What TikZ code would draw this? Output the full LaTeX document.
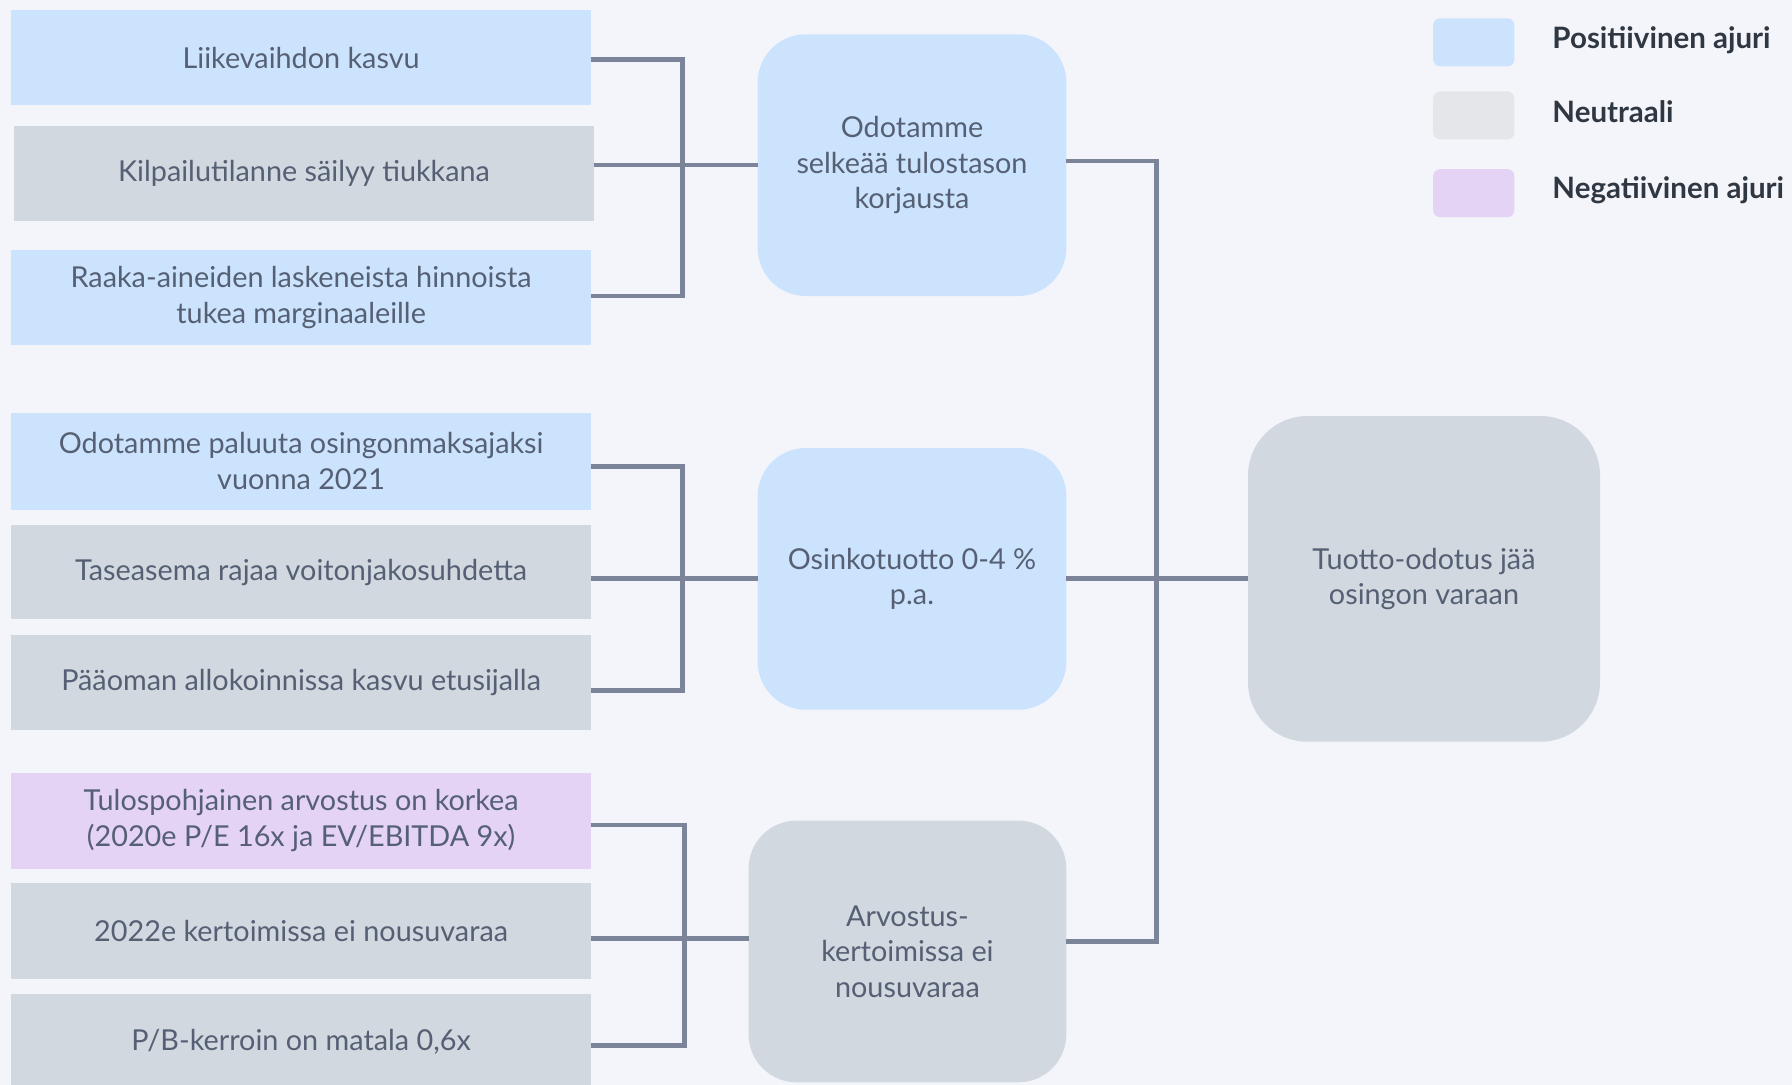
\documentclass[tikz,border=0pt]{standalone}
\usepackage{fontspec}
\setmainfont{Lato}
\definecolor{bg}{HTML}{F4F5FA}
\definecolor{posc}{HTML}{CCE3FD}
\definecolor{neuc}{HTML}{D1D8E0}
\definecolor{negc}{HTML}{E4D3F5}
\definecolor{legneu}{HTML}{E4E6EA}
\definecolor{txt}{HTML}{566074}
\definecolor{legtxt}{HTML}{2F3742}
\definecolor{linec}{HTML}{7B8499}
\begin{document}
\begin{tikzpicture}[x=0.5pt,y=-0.5pt,
  base/.style={inner sep=0pt,outer sep=0pt,align=center,text=txt,
    font=\fontsize{12.6}{15.5}\selectfont},
  leftbox/.style={base,rectangle,minimum width=253.5pt,minimum height=41.5pt},
  midbox/.style={base,rectangle,rounded corners=21pt,minimum width=135pt,minimum height=114.5pt},
  posfill/.style={fill=posc},
  neufill/.style={fill=neuc},
  negfill/.style={fill=negc},
  legbox/.style={rectangle,rounded corners=3pt,minimum width=35.5pt,minimum height=21pt,inner sep=0pt},
  leglab/.style={anchor=west,inner sep=0pt,text=legtxt,font=\fontsize{12.9}{14}\selectfont\bfseries},
  conn/.style={draw=linec,line width=2pt,line join=miter}]
\useasboundingbox (0,0) rectangle (1568,949);
\fill[bg] (0,0) rectangle (1568,949);

% left boxes
\node[leftbox,posfill] (l1) at (263.5,50.5) {Liikevaihdon kasvu};
\node[leftbox,neufill] (l2) at (266,151.5) {Kilpailutilanne säilyy tiukkana};
\node[leftbox,posfill] (l3) at (263.5,260.5) {Raaka-aineiden laskeneista hinnoista\\tukea marginaaleille};
\node[leftbox,posfill,minimum height=42.5pt] (l4) at (263.5,403.5) {Odotamme paluuta osingonmaksajaksi\\vuonna 2021};
\node[leftbox,neufill] (l5) at (263.5,500.5) {Taseasema rajaa voitonjakosuhdetta};
\node[leftbox,neufill] (l6) at (263.5,597.5) {Pääoman allokoinnissa kasvu etusijalla};
\node[leftbox,negfill,minimum height=42pt] (l7) at (263.5,718) {Tulospohjainen arvostus on korkea\\(2020e P/E 16x ja EV/EBITDA 9x)};
\node[leftbox,neufill,minimum height=42pt] (l8) at (263.5,815) {2022e kertoimissa ei nousuvaraa};
\node[leftbox,neufill] (l9) at (263.5,911.5) {P/B-kerroin on matala 0,6x};

% middle boxes
\node[midbox,posfill] (m1) at (798,144.5) {Odotamme\\selkeää tulostason\\korjausta};
\node[midbox,posfill] (m2) at (798,506.5) {Osinkotuotto 0-4 \%\\p.a.};
\node[midbox,neufill,minimum width=139pt] (m3) at (794,832.5) {Arvostus-\\kertoimissa ei\\nousuvaraa};

% final box
\node[base,rectangle,rounded corners=26pt,neufill,minimum width=154pt,minimum height=142.5pt] (f) at (1246,506.5) {Tuotto-odotus jää\\osingon varaan};

% connectors group 1
\coordinate (b1) at (597,144);
\draw[conn] ([yshift=-0.75pt]l1.east) -| (b1) |- ([yshift=0.75pt]l3.east);
\draw[conn] (l2.east |- m1.west) -- (m1.west);
% group 2
\coordinate (b2) at (597,506);
\draw[conn] ([yshift=-2.25pt]l4.east) -| (b2) |- ([yshift=-3.25pt]l6.east);
\draw[conn] (l5.east |- b2) -- (b2 -| m2.west);
% group 3
\coordinate (b3) at (599,821);
\draw[conn] ([yshift=-2pt]l7.east) -| (b3) |- ([yshift=-1.75pt]l9.east);
\draw[conn] (l8.east |- b3) -- (b3 -| m3.west);
% right side
\coordinate (b4) at (1012,506);
\draw[conn] ([yshift=1.75pt]m1.east) -| (b4) |- ([yshift=4.25pt]m3.east);
\draw[conn] (m2.east |- b4) -- (b4 -| f.west);

% legend
\node[legbox,fill=posc] (k1) at (1289.5,37) {};
\node[legbox,fill=legneu] (k2) at (1289.5,101) {};
\node[legbox,fill=negc] (k3) at (1289.5,169) {};
\node[leglab] (t1) at (1358,35) {Positiivinen ajuri};
\node[leglab] (t2) at (1358,98) {Neutraali};
\node[leglab] (t3) at (1358,166) {Negatiivinen ajuri};
\end{tikzpicture}
\end{document}
